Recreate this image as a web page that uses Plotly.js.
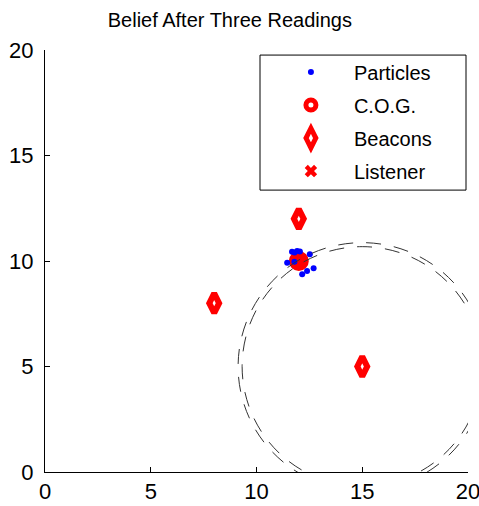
<!DOCTYPE html>
<html>
<head>
<meta charset="utf-8">
<script src="https://cdn.plot.ly/plotly-3.0.1.min.js"></script>
<style>html,body{margin:0;padding:0;background:#fff;}#chart{width:479px;height:506px;}</style>
</head>
<body>
<div id="chart"></div>
<script>
// Particles (belief samples)
const particleX = [11.68, 11.92, 11.45, 12.52, 12.39, 12.70, 12.16, 11.79, 11.80, 12.05];
const particleY = [10.44, 10.47, 9.92, 10.32, 9.53, 9.66, 9.37, 9.97, 10.40, 10.45];
// Centre of gravity
const cogX = [12.0];
const cogY = [10.0];
// Beacons
const beaconX = [8, 12, 15];
const beaconY = [8, 12, 5];
// Listener (true position)
const listenerX = [12.0];
const listenerY = [10.0];
// Range rings around the beacon at (15,5)
const ringCX = [15, 15];
const ringCY = [5, 5];
const ringR = [5.87, 5.68];
// Axis ticks
const tickVals = [0, 5, 10, 15, 20];
const tickText = ['0', '5', '10', '15', '20'];

const FONT = '"Liberation Sans", Arial, Helvetica, sans-serif';

const traces = [
  {x: cogX, y: cogY, type: 'scatter', mode: 'markers', name: 'C.O.G.', legendrank: 2, legendgroup: 'b',
   marker: {symbol: 'circle-open', size: 10, color: '#ff0000', line: {width: 10, color: '#ff0000'}}},
  {x: beaconX, y: beaconY, type: 'scatter', mode: 'markers', name: 'Beacons', legendrank: 3, legendgroup: 'c',
   marker: {symbol: 'diamond-tall-open', size: 14, color: '#ff0000', line: {width: 6, color: '#ff0000'}}},
  {x: listenerX, y: listenerY, type: 'scatter', mode: 'markers', name: 'Listener', legendrank: 4, legendgroup: 'd',
   marker: {symbol: 'x', size: 11, color: '#ff0000', line: {width: 0}}},
  {x: particleX, y: particleY, type: 'scatter', mode: 'markers', name: 'Particles', legendrank: 1, legendgroup: 'a',
   marker: {symbol: 'circle', size: 6, color: '#0000ff'}}
];

const shapes = ringR.map((r, i) => ({
  type: 'circle', xref: 'x', yref: 'y',
  x0: ringCX[i] - r, x1: ringCX[i] + r, y0: ringCY[i] - r, y1: ringCY[i] + r,
  line: {color: '#333333', width: 1, dash: '15px,13px'}, layer: 'above'
}));
// legend frame
shapes.push({type: 'rect', xref: 'paper', yref: 'paper', x0: 0.5083, x1: 0.9953, y0: 0.668, y1: 0.988,
  line: {color: '#000', width: 1}, fillcolor: 'rgba(0,0,0,0)', layer: 'above'});

const axisCommon = {
  range: [0, 20], tickmode: 'array', tickvals: tickVals, ticktext: tickText,
  ticks: 'inside', ticklen: 5, tickwidth: 1, tickcolor: '#000',
  showline: true, linecolor: '#000', linewidth: 1, mirror: false,
  showgrid: false, zeroline: false, fixedrange: true, ticklabeloverflow: 'allow',
  tickfont: {family: FONT, size: 22, color: '#000'}
};

const layout = {
  width: 479, height: 506,
  margin: {l: 45, r: 11, t: 50, b: 34, pad: 0},
  paper_bgcolor: '#fff', plot_bgcolor: '#fff',
  font: {family: FONT, size: 20, color: '#000'},
  title: {text: 'Belief After Three Readings', font: {family: FONT, size: 20, color: '#000'},
    x: 0.437, xref: 'paper', xanchor: 'center', y: 0.9605, yref: 'container', yanchor: 'middle'},
  xaxis: Object.assign({}, axisCommon, {ticklabelstandoff: 0}),
  yaxis: Object.assign({}, axisCommon, {ticklabelstandoff: 6}),
  showlegend: true,
  legend: {x: 0.527, y: 0.994, xanchor: 'left', yanchor: 'top', bgcolor: 'rgba(0,0,0,0)',
    borderwidth: 0, font: {family: FONT, size: 20, color: '#000'}, tracegroupgap: 4,
    itemwidth: 76},
  shapes: shapes
};

Plotly.newPlot('chart', traces, layout, {staticPlot: true, displayModeBar: false});
</script>
</body>
</html>
